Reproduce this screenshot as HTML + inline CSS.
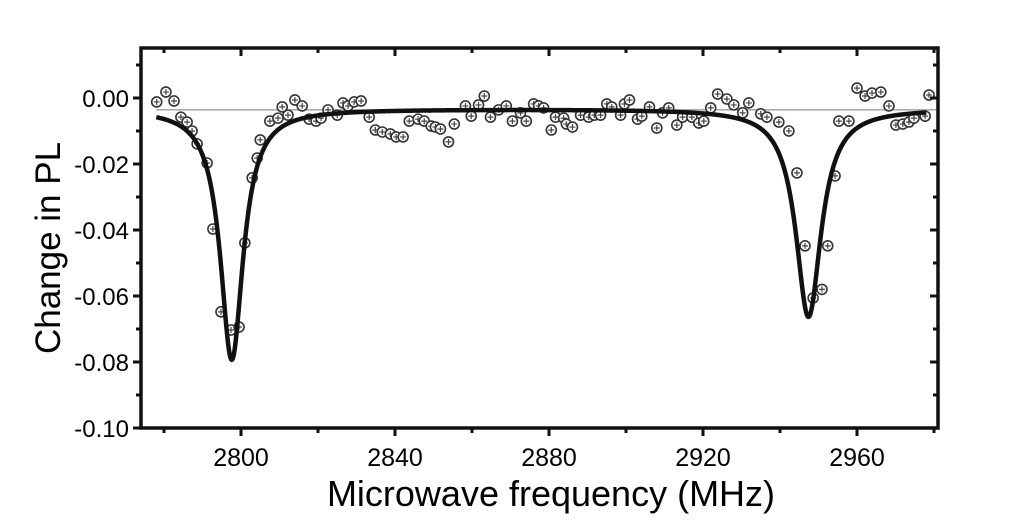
<!DOCTYPE html>
<html><head><meta charset="utf-8"><style>
html,body{margin:0;padding:0;background:#fff;width:1024px;height:530px;overflow:hidden}
text{font-family:"Liberation Sans",Arial,sans-serif}
</style></head><body>
<svg id="chart" width="1024" height="530" viewBox="0 0 1024 530" xmlns="http://www.w3.org/2000/svg">
<g id="grid"></g>
<g id="marks"></g>
<g id="axes"></g>
<text transform="translate(60,248) rotate(-90)" text-anchor="middle" font-size="35">Change in PL</text>
<text x="551" y="506" text-anchor="middle" font-size="36">Microwave frequency (MHz)</text>
</svg>
<script>
const freqs=[2778.1,2780.5,2782.6,2784.4,2786,2787.3,2788.6,2791.2,2792.7,2794.8,2797.4,2799.5,2801,2802.9,2804.2,2805,2807.5,2809.6,2810.7,2812.2,2814,2815.9,2817.7,2819.5,2820.8,2822.6,2825,2826.5,2827.8,2829.4,2831.2,2833.3,2834.9,2836.7,2838.8,2840.3,2842.1,2843.7,2846,2847.6,2849.4,2850.5,2851.8,2853.9,2855.4,2858.3,2859.8,2861.7,2863.2,2864.8,2866.9,2868.9,2870.5,2872.6,2874.1,2876,2877.3,2878.6,2880.6,2881.7,2883.8,2884.5,2886.1,2888.2,2890.3,2891.8,2893.4,2895,2896.3,2898.6,2899.6,2900.9,2903,2904.1,2906.1,2908,2909.5,2911.1,2913.2,2914.7,2917.1,2918.9,2920.2,2922,2923.8,2926.2,2928,2930.3,2931.9,2935,2936.6,2939.7,2942.3,2944.4,2946.5,2948.6,2950.9,2952.4,2954.3,2955.3,2957.9,2960,2962.1,2963.9,2966.2,2968.3,2970.1,2971.9,2973.5,2974.8,2977.7,2978.7];
const values=[-.0012,.0018,-.0009,-.0058,-.0073,-.01,-.0139,-.0197,-.0397,-.0648,-.0703,-.0694,-.0439,-.0242,-.0182,-.0127,-.007,-.0061,-.0027,-.0052,-.0006,-.0024,-.0064,-.007,-.0061,-.0036,-.0052,-.0015,-.0024,-.0012,-.0009,-.0058,-.0097,-.0103,-.0109,-.0118,-.0118,-.007,-.0064,-.007,-.0085,-.0088,-.0094,-.0133,-.0079,-.0024,-.0055,-.0021,.0006,-.0058,-.0036,-.0024,-.007,-.0045,-.007,-.0018,-.0024,-.003,-.0097,-.0058,-.0061,-.0079,-.0088,-.0052,-.0058,-.0052,-.0052,-.0018,-.0027,-.0052,-.0018,-.0006,-.0064,-.0055,-.0027,-.0091,-.0045,-.003,-.0082,-.0058,-.0058,-.0076,-.007,-.003,.0012,-.0003,-.0021,-.0045,-.0015,-.0048,-.0058,-.0073,-.01,-.0227,-.0448,-.0606,-.058,-.0448,-.0236,-.007,-.007,.003,.0006,.0015,.0018,-.0024,-.0082,-.0079,-.0073,-.0061,-.0055,.0009,.0036];
const fitBaseline=[-0.0033];
const fitCenters=[2797.6,2947.4];
const fitDepths=[0.0760,0.0630];
const fitWidths=[3.6,4.0];
const xTicks=[2800,2840,2880,2920,2960];
const xMinor=[2780,2820,2860,2900,2940,2980];
const yTicks=[0,-0.02,-0.04,-0.06,-0.08,-0.10];
const yMinor=[0.01,-0.01,-0.03,-0.05,-0.07,-0.09];
const yTickLabels=["0.00","-0.02","-0.04","-0.06","-0.08","-0.10"];

const L=141,R=938,T=48,B=428;
const x=f=>241+(f-2800)*154/40;
const y=v=>98-v*3300;
const NS="http://www.w3.org/2000/svg";
function mk(tag,attrs,parent){const e=document.createElementNS(NS,tag);for(const k in attrs)e.setAttribute(k,attrs[k]);parent.appendChild(e);return e;}
const marks=document.getElementById('marks'),axes=document.getElementById('axes');

const bl=mk('line',{x1:x(2778),x2:R,y1:y(-0.0036),y2:y(-0.0036),stroke:'#777','stroke-width':1},marks);



freqs.forEach((f,i)=>{
 const g=mk('g',{},marks);
 
 
 const cx=x(f),cy=y(values[i]);
 mk('circle',{cx:cx,cy:cy,r:5,fill:'#fff',stroke:'#333','stroke-width':1.6},g);
 mk('path',{d:`M${cx-3} ${cy}H${cx+3}M${cx} ${cy-3}V${cy+3}`,stroke:'#444','stroke-width':1.2},g);
});

let d='';
for(let f=2778;f<=2978;f+=0.1){
 let v=fitBaseline[0];
 for(let k=0;k<fitCenters.length;k++){const g=fitWidths[k];v-=fitDepths[k]*g*g/((f-fitCenters[k])**2+g*g);}
 d+=(d?'L':'M')+x(f).toFixed(2)+' '+y(v).toFixed(2);
}
const fc=mk('path',{d:d,fill:'none',stroke:'#111','stroke-width':4.5,'stroke-linejoin':'round'},marks);



const fr=mk('rect',{x:L,y:T,width:R-L,height:B-T,fill:'none',stroke:'#111','stroke-width':3.5},axes);



xTicks.forEach(t=>{
 const tk=mk('path',{d:`M${x(t)} ${B}v8M${x(t)} ${T}v8`,stroke:'#111','stroke-width':3},axes);
 
 
 const lb=mk('text',{x:x(t),y:466,'text-anchor':'middle','font-size':25},axes);
 lb.textContent=t;
 
 
});
xMinor.forEach(t=>{
 const tk=mk('path',{d:`M${x(t)} ${B}v5M${x(t)} ${T}v5`,stroke:'#111','stroke-width':3},axes);
 
 
});
yTicks.forEach((t,i)=>{
 const tk=mk('path',{d:`M${L-8} ${y(t)}h8M${R} ${y(t)}h-8`,stroke:'#111','stroke-width':3},axes);
 
 
 const lb=mk('text',{x:L-12,y:y(t)+9,'text-anchor':'end','font-size':24},axes);
 lb.textContent=yTickLabels[i];
 
 
});
yMinor.forEach(t=>{
 const tk=mk('path',{d:`M${L-5} ${y(t)}h5M${R} ${y(t)}h-5`,stroke:'#111','stroke-width':3},axes);
 
 
});
</script>
</body></html>
